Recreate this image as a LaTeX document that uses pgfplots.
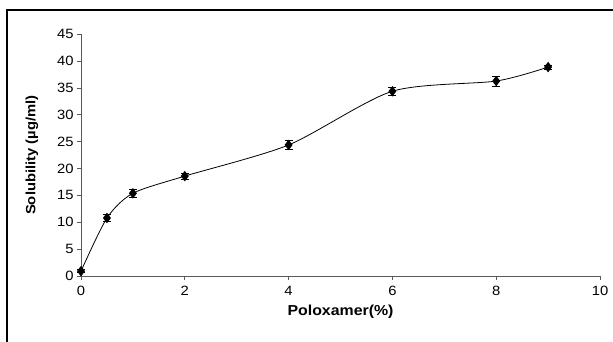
\documentclass[border=0pt]{standalone}
\usepackage{pgfplots}
\pgfplotsset{compat=1.18}
\usepackage{fontspec}
\setmainfont{Liberation Sans}[FakeStretch=1.1]
\begin{document}
\begin{tikzpicture}[x=1bp,y=1bp]
\useasboundingbox (0,0) rectangle (613,341);
\draw[line width=1.6bp] (7,-10) -- (7,331) -- (630,331);
\begin{axis}[
  at={(81bp,65bp)}, anchor=south west,
  scale only axis, width=519bp, height=241.7bp,
  xmin=0, xmax=10, ymin=0, ymax=45,
  axis x line*=bottom, axis y line*=left,
  axis line style={black!65, line width=0.8bp},
  xtick={0,2,...,10}, ytick={0,5,...,45},
  tick align=outside, major tick length=4bp,
  tick style={black!65, line width=0.8bp},
  /pgf/number format/assume math mode=true,
  tick label style={font=\fontsize{13.5}{14}\selectfont},
  xticklabel style={yshift=-3bp},
  xlabel={\textbf{Poloxamer(\%)}},
  ylabel={\textbf{Solubility (µg/ml)}},
  xlabel style={font=\fontsize{14.5}{15}\selectfont, yshift=-2bp},
  ylabel style={font=\fontsize{13.5}{14}\selectfont, yshift=12bp},
  clip=false,
]
\addplot[black, line width=0.8bp, smooth, tension=0.45, mark=diamond*, mark size=4.6bp,
  error bars/.cd, y dir=both, y explicit,
  error bar style={line width=0.7bp},
  error mark options={rotate=90, mark size=4bp, line width=0.7bp}]
  table[x=x, y=y, y error=e] {
x y e
0 0.9 0.3
0.5 10.8 0.6
1 15.4 0.8
2 18.6 0.6
4 24.4 0.8
6 34.4 0.8
8 36.3 0.9
9 38.9 0.4
};
\end{axis}
\end{tikzpicture}
\end{document}
